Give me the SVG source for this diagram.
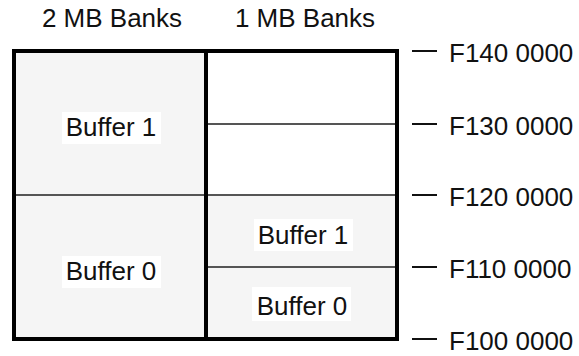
<svg xmlns="http://www.w3.org/2000/svg" width="579" height="356" viewBox="0 0 579 356">
  <style>
    text { font-family: "Liberation Sans", Arial, sans-serif; font-size: 26px; fill: #111; }
    .mid { text-anchor: middle; }
    .bank { fill: #f5f5f5; stroke: none; }
    .div { stroke: #555; stroke-width: 2; fill: none; }
    .frame { stroke: #000; stroke-width: 4; fill: none; }
    .tick { stroke: #111; stroke-width: 2; }
    .lblbg { fill: #fff; }
  </style>

  <!-- column headings -->
  <g id="headings">
    <text class="mid" x="112" y="27">2 MB Banks</text>
    <text class="mid" x="305" y="27">1 MB Banks</text>
  </g>

  <!-- 2 MB bank column -->
  <g id="bank2mb">
    <rect class="bank" x="14" y="51" width="192" height="288"/>
  </g>

  <!-- 1 MB bank column: upper half empty, lower half buffers -->
  <g id="bank1mb">
    <rect x="206" y="51" width="191" height="144" fill="#fff"/>
    <rect class="bank" x="206" y="195" width="191" height="144"/>
  </g>

  <!-- address boundaries -->
  <g id="dividers">
    <line class="div" x1="206" y1="124" x2="397" y2="124"/>
    <line class="div" x1="14" y1="195" x2="397" y2="195"/>
    <line class="div" x1="206" y1="267" x2="397" y2="267"/>
  </g>

  <g id="frame">
    <rect class="frame" x="14" y="51" width="383" height="288"/>
    <line class="frame" x1="206" y1="51" x2="206" y2="339"/>
  </g>

  <!-- buffer labels -->
  <g id="buf1-2mb">
    <rect class="lblbg" x="62" y="112" width="99" height="32"/>
    <text class="mid" x="111" y="136">Buffer 1</text>
  </g>
  <g id="buf0-2mb">
    <rect class="lblbg" x="62" y="256" width="99" height="32"/>
    <text class="mid" x="111" y="280">Buffer 0</text>
  </g>
  <g id="buf1-1mb">
    <rect class="lblbg" x="254" y="219" width="99" height="32"/>
    <text class="mid" x="303" y="244">Buffer 1</text>
  </g>
  <g id="buf0-1mb">
    <rect class="lblbg" x="252" y="287" width="99" height="34"/>
    <text class="mid" x="302" y="315">Buffer 0</text>
  </g>

  <!-- address scale -->
  <g id="addresses">
    <line class="tick" x1="412" y1="51" x2="437" y2="51"/>
    <text x="449" y="62">F140 0000</text>
    <line class="tick" x1="412" y1="124" x2="437" y2="124"/>
    <text x="449" y="135">F130 0000</text>
    <line class="tick" x1="412" y1="195" x2="437" y2="195"/>
    <text x="449" y="206">F120 0000</text>
    <line class="tick" x1="412" y1="267" x2="437" y2="267"/>
    <text x="449" y="278">F110 0000</text>
    <line class="tick" x1="412" y1="339" x2="437" y2="339"/>
    <text x="449" y="350">F100 0000</text>
  </g>
</svg>
